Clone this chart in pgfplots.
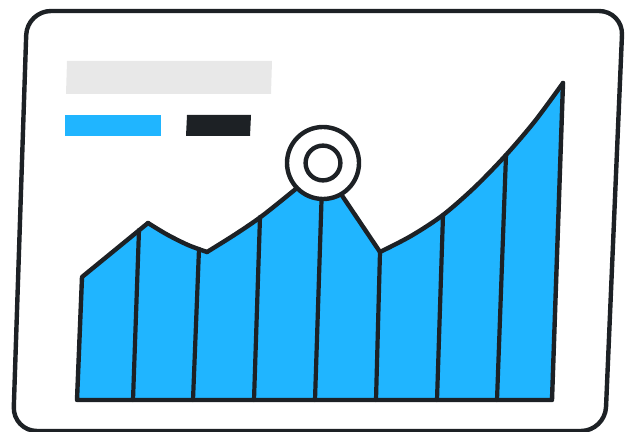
\documentclass[border=0pt]{standalone}
\usepackage{pgfplots}
\pgfplotsset{compat=1.18}
\definecolor{cblue}{HTML}{20B5FF}
\definecolor{cdark}{HTML}{1D2125}
\definecolor{cgray}{HTML}{E8E8E8}
\begin{document}
\begin{tikzpicture}
\begin{axis}[
  scale only axis, width=313pt, height=216pt,
  xmin=0, xmax=626, ymin=0, ymax=432, y dir=reverse,
  hide axis, line cap=round, line join=round,
]
% placeholder title and legend blocks
\addplot[fill=cgray, draw=none] coordinates {(67,61) (272,61) (271,94) (66,94)} --cycle;
\addplot[fill=cblue, draw=none] coordinates {(65,115) (161,115) (161,136) (65,136)} --cycle;
\addplot[fill=cdark, draw=none] coordinates {(187,115) (251,115) (250,136) (186,136)} --cycle;
% area fill
\addplot[fill=cblue, draw=none] coordinates {
 (77,400) (82,277) (148,223) (158,229) (167,234.5) (178,240) (188,245) (198,249) (207,252) (221,244) (235,234.5) (249,225.5) (262,216) (280,202) (297,188) (323,167)
 (343,197) (380,252) (395,244.5) (411,236) (427,226) (443,215) (459,201.5) (475,187) (491,171.5) (506,155) (520,138.5) (535,121) (549,102.5) (563,83) (552,400)} --cycle;
% vertical dividers
\addplot[cdark, line width=2.1pt] coordinates {(139,230) (133,400)};
\addplot[cdark, line width=2.1pt] coordinates {(199,249) (193,400)};
\addplot[cdark, line width=2.1pt] coordinates {(260,217) (254,400)};
\addplot[cdark, line width=2.1pt] coordinates {(322,185) (315,400)};
\addplot[cdark, line width=2.1pt] coordinates {(380,252) (376,400)};
\addplot[cdark, line width=2.1pt] coordinates {(443,215) (437,400)};
\addplot[cdark, line width=2.1pt] coordinates {(506,155) (497,400)};
% area outline
\addplot[draw=cdark, line width=2.2pt] coordinates {(148,223) (82,277) (77,400) (552,400) (563,83)};
\addplot[draw=cdark, line width=2.2pt, smooth] coordinates {(148,223) (167,234.5) (188,245) (207,252)};
\addplot[draw=cdark, line width=2.2pt, smooth] coordinates {(207,252) (235,234.5) (262,216) (297,188) (323,167)};
\addplot[draw=cdark, line width=2.2pt] coordinates {(323,167) (343,197) (380,252)};
\addplot[draw=cdark, line width=2.2pt, smooth] coordinates {(380,252) (411,236) (443,215) (475,187) (506,155) (535,121) (563,83)};
% highlighted point
\addplot[only marks, mark=*, mark size=18pt, mark options={fill=white, draw=cdark, line width=2.2pt}] coordinates {(323,163)};
\addplot[only marks, mark=o, mark size=8.7pt, mark options={draw=cdark, line width=2.2pt}] coordinates {(323,163)};
% card outline
\addplot[draw=cdark, line width=2.2pt, rounded corners=12pt] coordinates {(27,11) (623,11) (605,431) (13,431)} --cycle;
\end{axis}
\pgfresetboundingbox
\path[use as bounding box] (current axis.south west) rectangle (current axis.north east);
\end{tikzpicture}
\end{document}
